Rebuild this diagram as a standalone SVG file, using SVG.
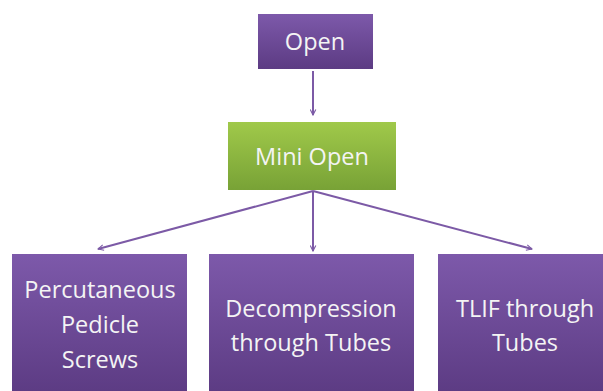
<svg xmlns="http://www.w3.org/2000/svg" width="603" height="391" viewBox="0 0 603 391">
<style>
.lbl{font-family:"Open Sans","Liberation Sans",sans-serif;font-size:23.5px;fill:#f4f4f4;text-anchor:middle}
.con{stroke:#7c5aa6;stroke-width:2;fill:none;marker-end:url(#ah)}
</style>
<defs>
<linearGradient id="gp" x1="0" y1="0" x2="0" y2="1"><stop offset="0" stop-color="#7d59aa"/><stop offset="1" stop-color="#5c3b83"/></linearGradient>
<linearGradient id="gg" x1="0" y1="0" x2="0" y2="1"><stop offset="0" stop-color="#a0c94a"/><stop offset="1" stop-color="#78a236"/></linearGradient>
<marker id="ah" viewBox="0 0 10 10" refX="9" refY="5" markerWidth="7" markerHeight="7" orient="auto" markerUnits="userSpaceOnUse"><path d="M1,1 L9,5 L1,9" fill="none" stroke="#7c5aa6" stroke-width="1.6"/></marker>
</defs>
<rect width="603" height="391" fill="#ffffff"/>
<g id="connectors">
<line class="con" x1="313" y1="71" x2="313" y2="115"/>
<line class="con" x1="313" y1="191" x2="98" y2="249"/>
<line class="con" x1="313" y1="191" x2="313" y2="251"/>
<line class="con" x1="313" y1="191" x2="532" y2="249"/>
</g>
<g id="open">
<rect x="258" y="14" width="115" height="55" fill="url(#gp)"/>
<text class="lbl" x="315" y="50">Open</text>
</g>
<g id="mini-open">
<rect x="228" y="122" width="168" height="68" fill="url(#gg)"/>
<text class="lbl" x="312" y="165">Mini Open</text>
</g>
<g id="percutaneous">
<rect x="12" y="254" width="175" height="140" fill="url(#gp)"/>
<text class="lbl" x="100" y="298">Percutaneous</text>
<text class="lbl" x="100" y="333">Pedicle</text>
<text class="lbl" x="100" y="368">Screws</text>
</g>
<g id="decompression">
<rect x="209" y="254" width="205" height="140" fill="url(#gp)"/>
<text class="lbl" x="311" y="317">Decompression</text>
<text class="lbl" x="311" y="351">through Tubes</text>
</g>
<g id="tlif">
<rect x="438" y="254" width="170" height="140" fill="url(#gp)"/>
<text class="lbl" x="525" y="317">TLIF through</text>
<text class="lbl" x="525" y="351">Tubes</text>
</g>
</svg>
